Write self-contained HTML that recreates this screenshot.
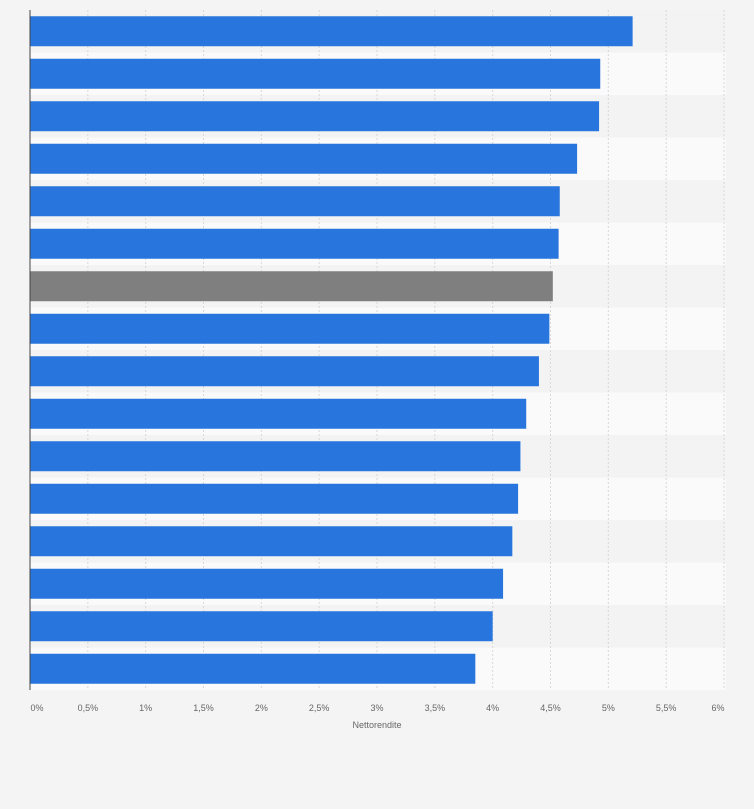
<!DOCTYPE html>
<html><head><meta charset="utf-8"><style>
body{margin:0;background:#f4f4f4;font-family:"Liberation Sans",sans-serif;}
svg{display:block}
</style></head><body>
<svg id="chart" width="754" height="809"></svg>
<script>
const categories=["R1","R2","R3","R4","R5","R6","R7","R8","R9","R10","R11","R12","R13","R14","R15","R16"];
const values=[5.21,4.93,4.92,4.73,4.58,4.57,4.52,4.49,4.40,4.29,4.24,4.22,4.17,4.09,4.00,3.85];
const highlight=[false,false,false,false,false,false,true,false,false,false,false,false,false,false,false,false];
const ticks=[0,0.5,1,1.5,2,2.5,3,3.5,4,4.5,5,5.5,6];
const tickLabels=["0%","0,5%","1%","1,5%","2%","2,5%","3%","3,5%","4%","4,5%","5%","5,5%","6%"];
const NS="http://www.w3.org/2000/svg";
const svg=document.getElementById('chart');
const L=30,R=724,T=10,B=690;
const x=v=>L+(v/6)*(R-L);
const band=(B-T)/categories.length;
const y=i=>T+i*band;
function mk(tag,a){const e=document.createElementNS(NS,tag);for(const k in a)e.setAttribute(k,a[k]);svg.appendChild(e);return e;}
categories.forEach((c,i)=>{
 const r=mk('rect',{x:L,y:y(i),width:R-L+2,height:band,fill:i%2?'#fafafa':'#f3f3f3'});
 
 
});
ticks.forEach((t,i)=>{
 if(i>0){const g=mk('line',{x1:x(t),x2:x(t),y1:T,y2:B,stroke:'#d8d8d8','stroke-dasharray':'2,2'});
 
 }
 let tx=x(t); if(i==0)tx+=7; if(i==ticks.length-1)tx-=6;
 const l=mk('text',{x:tx,y:711,'font-size':9,fill:'#666','text-anchor':'middle'});
 l.textContent=tickLabels[i];
 
 
});
values.forEach((v,i)=>{
 const b=mk('rect',{x:L,y:y(i)+band/2-15,width:x(v)-L,height:30,fill:highlight[i]?'#7f7f7f':'#2876dd'});
 
 
});
const ax=mk('line',{x1:L,x2:L,y1:T,y2:B,stroke:'#444','stroke-width':1});


const tt=mk('text',{x:377,y:728,'font-size':9,fill:'#666','text-anchor':'middle'});
tt.textContent='Nettorendite';


</script>
</body></html>
